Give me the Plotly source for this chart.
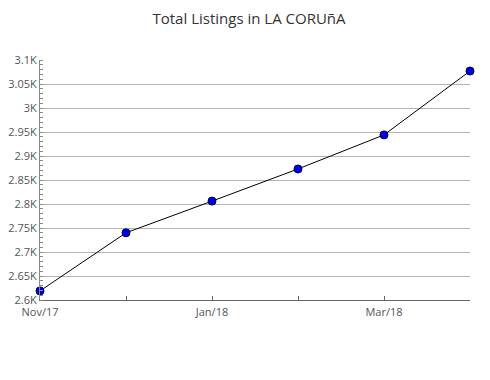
import plotly.graph_objects as go

months = ["Nov/17", "Dec/17", "Jan/18", "Feb/18", "Mar/18", "Apr/18"]
listings = [2619, 2740, 2806, 2873, 2944, 3077]
x_tick_labels = ["Nov/17", "", "Jan/18", "", "Mar/18", ""]
y_tick_vals = [2600, 2650, 2700, 2750, 2800, 2850, 2900, 2950, 3000, 3050, 3100]
y_tick_labels = ["2.6K", "2.65K", "2.7K", "2.75K", "2.8K", "2.85K", "2.9K", "2.95K", "3K", "3.05K", "3.1K"]

fig = go.Figure()
fig.add_trace(go.Scatter(
    x=months, y=listings, mode="lines+markers",
    line=dict(color="black", width=1),
    marker=dict(color="#0000ee", size=8, line=dict(color="#000044", width=1)),
    cliponaxis=False, showlegend=False,
))

fig.update_layout(
    width=482, height=372,
    margin=dict(l=32, r=20, t=52, b=80),
    paper_bgcolor="white", plot_bgcolor="white",
    font=dict(family="Open Sans", size=11, color="#555555"),
    title=dict(text="Total Listings in LA CORUñA", x=0.5, xanchor="center", y=0.97, yanchor="middle",
               font=dict(family="Open Sans", size=15, color="#333333")),
    xaxis=dict(
        type="category", range=[0, 5], automargin=False,
        tickvals=months, ticktext=x_tick_labels,
        ticks="inside", ticklen=4, tickcolor="#666666",
        ticklabelstandoff=2,
        showline=True, linecolor="#666666", linewidth=1,
        showgrid=False, zeroline=False,
    ),
    yaxis=dict(
        range=[2600, 3100], automargin=False,
        tickvals=y_tick_vals, ticktext=y_tick_labels,
        ticks="", showline=True, linecolor="#888888", linewidth=1,
        showgrid=True, gridcolor="#b4b4b4", gridwidth=1, zeroline=False,
        minor=dict(ticks="inside", dtick=10, ticklen=3, tickcolor="#888888", showgrid=False),
    ),
)

fig.write_html("out.html")
